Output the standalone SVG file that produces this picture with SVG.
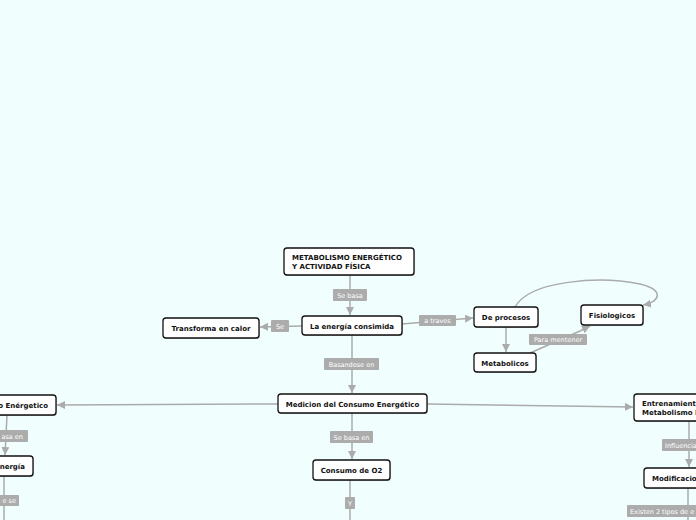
<svg xmlns="http://www.w3.org/2000/svg" width="696" height="520" viewBox="0 0 696 520">
<defs>
<style>
.bg{fill:#f0fffd}
.node rect.sh{fill:#9a9a9a;opacity:0.6}
.node rect.bx{fill:#ffffff;stroke:#111;stroke-width:1.3}
.node text{font-family:"DejaVu Sans",Verdana,sans-serif;font-weight:bold;font-size:7px;fill:#111}
.lbl rect{fill:#acacac}
.lbl text{font-family:"DejaVu Sans",Verdana,sans-serif;font-size:6.5px;fill:#ffffff;text-anchor:middle}
.edge{stroke:#ababab;stroke-width:1.5;fill:none}
</style>
<marker id="ar" markerUnits="userSpaceOnUse" markerWidth="10" markerHeight="10" refX="8" refY="4" orient="auto">
<path d="M0,0 L8,4 L0,8 Z" fill="#ababab"/>
</marker>
</defs>
<rect class="bg" x="0" y="0" width="696" height="520"/>
<g id="connectors">
<path class="edge" d="M350,275 L350,315" marker-end="url(#ar)"/>
<path class="edge" d="M302,326 L260,327" marker-end="url(#ar)"/>
<path class="edge" d="M402,324 L473,318" marker-end="url(#ar)"/>
<path class="edge" d="M506,327 L506,352" marker-end="url(#ar)"/>
<path class="edge" d="M530,353 L580,331 L590,326" marker-end="url(#ar)"/>
<path class="edge" d="M515,307 C530,280 600,276 640,284 C665,290 660,302 643,305" marker-end="url(#ar)"/>
<path class="edge" d="M352,335 L352,393" marker-end="url(#ar)"/>
<path class="edge" d="M278,404 L57,405" marker-end="url(#ar)"/>
<path class="edge" d="M427,404 L633,407" marker-end="url(#ar)"/>
<path class="edge" d="M352,413 L352,459" marker-end="url(#ar)"/>
<path class="edge" d="M7,415 L5,455" marker-end="url(#ar)"/>
<path class="edge" d="M4,476 L4,520"/>
<path class="edge" d="M350,480 L350,520"/>
<path class="edge" d="M689,421 L689,467" marker-end="url(#ar)"/>
<path class="edge" d="M688,488 L688,520"/>
</g>
<g id="labels">
<g class="lbl"><rect x="333" y="289" width="34" height="12" rx="1"/><text x="350" y="297.5">Se basa</text></g>
<g class="lbl"><rect x="271" y="320" width="18" height="12" rx="1"/><text x="280" y="328.5">Se</text></g>
<g class="lbl"><rect x="419" y="315" width="37" height="11" rx="1"/><text x="437.5" y="323">a traves</text></g>
<g class="lbl"><rect x="529" y="334" width="58" height="11" rx="1"/><text x="558" y="342">Para mentener</text></g>
<g class="lbl"><rect x="324" y="358" width="55" height="12" rx="1"/><text x="351.5" y="366.5">Basandose en</text></g>
<g class="lbl"><rect x="330" y="431" width="43" height="12" rx="1"/><text x="351.5" y="439.5">Se basa en</text></g>
<g class="lbl"><rect x="345" y="497" width="10" height="12" rx="1"/><text x="350" y="505.5">Y</text></g>
<g class="lbl"><rect x="-10" y="430" width="38" height="12" rx="1"/><text x="13" y="438.5" style="text-anchor:end" transform="translate(10,0)">asa en</text></g>
<g class="lbl"><rect x="-10" y="495" width="29" height="11" rx="1"/><text x="16" y="503" style="text-anchor:end">e se</text></g>
<g class="lbl"><rect x="662" y="439" width="40" height="12" rx="1"/><text x="665" y="447.5" style="text-anchor:start">Influencia</text></g>
<g class="lbl"><rect x="627" y="505" width="75" height="12" rx="1"/><text x="630" y="513.5" style="text-anchor:start">Existen 2 tipos de e</text></g>
</g>
<g id="n-root" class="node"><rect class="sh" x="285" y="249" width="130" height="27" rx="3"/><rect class="bx" x="284" y="248" width="130" height="27" rx="3"/><text x="292" y="260">METABOLISMO ENERGÉTICO</text><text x="292" y="269">Y ACTIVIDAD FÍSICA</text></g>
<g id="n-energia" class="node"><rect class="sh" x="303" y="317" width="100" height="19" rx="3"/><rect class="bx" x="302" y="316" width="100" height="19" rx="3"/><text x="352" y="328.5" text-anchor="middle">La energía consimida</text></g>
<g id="n-calor" class="node"><rect class="sh" x="164" y="319" width="96" height="20" rx="3"/><rect class="bx" x="163" y="318" width="96" height="20" rx="3"/><text x="211" y="330.5" text-anchor="middle">Transforma en calor</text></g>
<g id="n-procesos" class="node"><rect class="sh" x="475" y="308" width="64" height="20" rx="3"/><rect class="bx" x="474" y="307" width="64" height="20" rx="3"/><text x="506" y="319.5" text-anchor="middle">De procesos</text></g>
<g id="n-fisio" class="node"><rect class="sh" x="582" y="306" width="62" height="20" rx="3"/><rect class="bx" x="581" y="305" width="62" height="20" rx="3"/><text x="612" y="317.5" text-anchor="middle">Fisiologicos</text></g>
<g id="n-metab" class="node"><rect class="sh" x="475" y="354" width="62" height="19" rx="3"/><rect class="bx" x="474" y="353" width="62" height="19" rx="3"/><text x="505" y="365.5" text-anchor="middle">Metabolicos</text></g>
<g id="n-medicion" class="node"><rect class="sh" x="279" y="395" width="149" height="19" rx="3"/><rect class="bx" x="278" y="394" width="149" height="19" rx="3"/><text x="352.5" y="406.5" text-anchor="middle">Medicion del Consumo Energético</text></g>
<g id="n-o2" class="node"><rect class="sh" x="314" y="461" width="77" height="20" rx="3"/><rect class="bx" x="313" y="460" width="77" height="20" rx="3"/><text x="351.5" y="472.5" text-anchor="middle">Consumo de O2</text></g>
<g id="n-gasto" class="node"><rect class="sh" x="-19" y="396" width="76" height="20" rx="3"/><rect class="bx" x="-20" y="395" width="76" height="20" rx="3"/><text x="48" y="407.5" text-anchor="end">o Enérgetico</text></g>
<g id="n-energia2" class="node"><rect class="sh" x="-19" y="457" width="53" height="20" rx="3"/><rect class="bx" x="-20" y="456" width="53" height="20" rx="3"/><text x="25" y="468.5" text-anchor="end">nergía</text></g>
<g id="n-entren" class="node"><rect class="sh" x="635" y="395" width="80" height="27" rx="3"/><rect class="bx" x="634" y="394" width="80" height="27" rx="3"/><text x="642" y="405.5">Entrenamient</text><text x="642" y="414.5">Metabolismo E</text></g>
<g id="n-modif" class="node"><rect class="sh" x="645" y="469" width="70" height="20" rx="3"/><rect class="bx" x="644" y="468" width="70" height="20" rx="3"/><text x="652" y="480.5">Modificacio</text></g>
</svg>
